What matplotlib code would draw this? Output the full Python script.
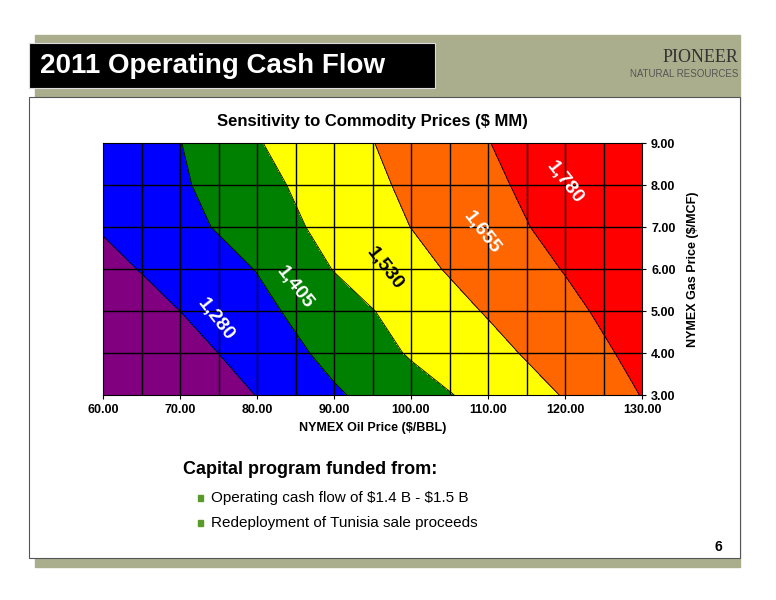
import numpy as np
import matplotlib.pyplot as plt
import matplotlib.patches as mpatches

plt.rcParams["font.family"] = ["Liberation Sans", "DejaVu Sans"]

oil = [60, 70, 80, 90, 100, 110, 120, 130]
gas = [3, 4, 5, 6, 7, 8, 9]
# cash flow ($MM), one row per gas price
cash_flow = [
    [1069, 1176, 1283, 1390, 1480, 1569, 1662, 1784],
    [1122, 1228, 1333, 1438, 1541, 1618, 1711, 1817],
    [1188, 1280, 1372, 1477, 1576, 1664, 1752, 1840],
    [1244, 1326, 1409, 1534, 1622, 1705, 1785, 1865],
    [1290, 1365, 1464, 1568, 1656, 1736, 1816, 1896],
    [1309, 1389, 1493, 1589, 1677, 1757, 1837, 1917],
    [1322, 1402, 1523, 1610, 1695, 1777, 1858, 1938],
]
levels = [1000, 1280, 1405, 1530, 1655, 1780, 2000]
band_colors = ["#800080", "#0000ff", "#008000", "#ffff00", "#ff6600", "#ff0000"]
labels = ["1,280", "1,405", "1,530", "1,655", "1,780"]
label_pos = [(74.6, 4.8), (84.9, 5.55), (96.6, 6.0), (109.2, 6.86), (120.0, 8.05)]
label_color = ["white", "white", "black", "white", "white"]

fig = plt.figure(figsize=(7.76, 6.0), dpi=100)
fig.patch.set_facecolor("white")

# slide frame
fig.patches.append(mpatches.Rectangle((35 / 776, 1 - 567 / 600), 705 / 776, 532 / 600,
                                      transform=fig.transFigure, color="#abae8c", zorder=0))
fig.patches.append(mpatches.Rectangle((29 / 776, 1 - 558 / 600), 711 / 776, 461 / 600,
                                      transform=fig.transFigure, facecolor="white",
                                      edgecolor="#555555", lw=0.8, zorder=1))
fig.patches.append(mpatches.Rectangle((29 / 776, 1 - 88 / 600), 406 / 776, 45 / 600,
                                      transform=fig.transFigure, facecolor="black",
                                      edgecolor="#dddddd", lw=0.8, zorder=1))
fig.text(40 / 776, 1 - 66 / 600, "2011 Operating Cash Flow", color="white",
         fontsize=20, fontweight="bold", va="center", ha="left")
fig.text(738 / 776, 1 - 57 / 600, "PIONEER", fontsize=13, family="Liberation Serif",
         color="#333333", ha="right", va="center")
fig.text(738 / 776, 1 - 74 / 600, "NATURAL RESOURCES", fontsize=7, color="#555555",
         ha="right", va="center")

ax = fig.add_axes([103 / 776, 1 - 395 / 600, 539 / 776, 252 / 600], zorder=5)
X, Y = np.meshgrid(oil, gas)
Z = np.array(cash_flow)
ax.contourf(X, Y, Z, levels=levels, colors=band_colors)
ax.contour(X, Y, Z, levels=levels[1:-1], colors="black", linewidths=0.6)
for xv in np.arange(65, 130, 5):
    ax.axvline(xv, color="black", lw=1.0)
for yv in np.arange(4, 9, 1):
    ax.axhline(yv, color="black", lw=1.0)
for lab, (lx, ly), c in zip(labels, label_pos, label_color):
    ax.text(lx, ly, lab, rotation=-52, fontsize=14, fontweight="bold", color=c,
            ha="center", va="center")

ax.set_xlim(60, 130)
ax.set_ylim(3, 9)
ax.set_xticks(np.arange(60, 131, 10))
ax.set_xticklabels([f"{v:.2f}" for v in np.arange(60, 131, 10)], fontsize=9, fontweight="bold")
ax.yaxis.tick_right()
ax.yaxis.set_label_position("right")
ax.set_yticks(np.arange(3, 10, 1))
ax.set_yticklabels([f"{v:.2f}" for v in np.arange(3, 10, 1)], fontsize=9, fontweight="bold")
ax.tick_params(length=3)
ax.set_xlabel("NYMEX Oil Price (\\$/BBL)", fontsize=9, fontweight="bold")
ax.set_ylabel("NYMEX Gas Price (\\$/MCF)", fontsize=9, fontweight="bold", labelpad=8)
ax.set_title("Sensitivity to Commodity Prices (\\$ MM)", fontsize=12, fontweight="bold", pad=12)

fig.text(183 / 776, 1 - 470 / 600, "Capital program funded from:", fontsize=13,
         fontweight="bold", va="center")
bullets = ["Operating cash flow of \\$1.4 B - \\$1.5 B", "Redeployment of Tunisia sale proceeds"]
for i, b in enumerate(bullets):
    yy = 1 - (498 + 25 * i) / 600
    fig.patches.append(mpatches.Rectangle((198 / 776, yy - 3 / 600), 5 / 776, 6 / 600,
                                          transform=fig.transFigure, color="#5a9a2a", zorder=2))
    fig.text(211 / 776, yy, b, fontsize=11, va="center")
fig.text(722 / 776, 1 - 547 / 600, "6", fontsize=10, fontweight="bold", ha="right", va="center")

fig.savefig("out.png", dpi=100)
